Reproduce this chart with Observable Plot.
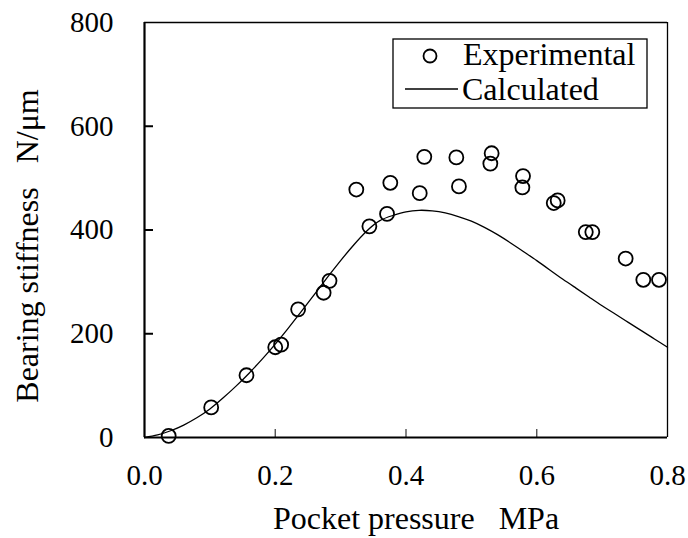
<!DOCTYPE html>
<html>
<head>
<meta charset="utf-8">
<script src="https://cdn.jsdelivr.net/npm/d3@7"></script>
<script src="https://cdn.jsdelivr.net/npm/@observablehq/plot@0.6"></script>
<style>
  html, body { margin: 0; padding: 0; background: white; }
  #chart { position: relative; width: 688px; height: 538px; }
</style>
</head>
<body>
<div id="chart"></div>
<script>
// Tick values
const xTickValues = [0.0, 0.2, 0.4, 0.6, 0.8];
const yTickValues = [0, 200, 400, 600, 800];
const xInnerTicks = [0.2, 0.4, 0.6];
const yInnerTicks = [200, 400, 600];

// Experimental data (pocket pressure MPa, stiffness N/um)
const expPressure = [0.037, 0.102, 0.156, 0.200, 0.209, 0.235, 0.274, 0.283, 0.324, 0.344,
                     0.371, 0.376, 0.421, 0.428, 0.477, 0.481, 0.531, 0.529, 0.579, 0.578,
                     0.626, 0.632, 0.675, 0.685, 0.736, 0.763, 0.787];
const expStiffness = [3, 58, 120, 174, 179, 247, 279, 302, 478, 407,
                      431, 491, 471, 541, 540, 484, 548, 528, 504, 482,
                      452, 457, 396, 396, 345, 304, 304];

// Calculated curve
const calcPressure = [0.00, 0.02, 0.04, 0.06, 0.08, 0.10, 0.12, 0.14, 0.16, 0.18,
                      0.20, 0.22, 0.24, 0.26, 0.28, 0.30, 0.32, 0.34, 0.36, 0.38,
                      0.40, 0.42, 0.44, 0.46, 0.48, 0.50, 0.52, 0.54, 0.56, 0.58,
                      0.60, 0.62, 0.64, 0.66, 0.68, 0.70, 0.72, 0.74, 0.76, 0.78, 0.80];
const calcStiffness = [0, 5, 13, 24, 38, 55, 76, 99, 124, 151,
                       180, 211, 243, 276, 309, 341, 371, 398, 418, 428,
                       435, 438, 437, 433, 426, 417, 405, 391, 375, 358,
                       341, 323, 305, 288, 271, 254, 238, 222, 206, 190, 174];

const xTitle = "Pocket pressure\u00a0\u00a0\u00a0MPa";
const yTitle = "Bearing stiffness\u00a0\u00a0\u00a0N/\u03bcm";
const legendLabels = ["Experimental", "Calculated"];

const expData = expPressure.map((p, i) => ({p, k: expStiffness[i]}));
const calcData = calcPressure.map((p, i) => ({p, k: calcStiffness[i]}));

const font = "'Liberation Serif', 'Times New Roman', Times, serif";

const chart = Plot.plot({
  width: 688,
  height: 538,
  marginLeft: 144,
  marginRight: 21,
  marginTop: 22,
  marginBottom: 101,
  x: {domain: [0, 0.8]},
  y: {domain: [0, 800]},
  style: {fontFamily: font, color: "black", background: "white", overflow: "visible"},
  marks: [
    Plot.axisX(xTickValues, {tickSize: 0, tickPadding: 27, tickFormat: d3.format(".1f"), fontSize: 29, label: null}),
    Plot.axisX(xInnerTicks, {tickSize: -8, tickFormat: () => "", label: null, stroke: "#444", strokeWidth: 1.3}),
    Plot.axisY(yTickValues, {tickSize: 0, tickPadding: 31, tickFormat: d3.format("d"), fontSize: 29, label: null}),
    Plot.axisY(yInnerTicks, {tickSize: -9, tickFormat: () => "", label: null, stroke: "black", strokeWidth: 2}),
    Plot.ruleX([0], {stroke: "black", strokeWidth: 2.2}),
    Plot.ruleY([0], {stroke: "black", strokeWidth: 2.2}),
    Plot.ruleX([0.8], {stroke: "black", strokeWidth: 1.3}),
    Plot.ruleY([800], {stroke: "black", strokeWidth: 1.3}),
    Plot.line(calcData, {x: "p", y: "k", curve: "natural", stroke: "black", strokeWidth: 1.3}),
    Plot.dot(expData, {x: "p", y: "k", r: 7, stroke: "black", strokeWidth: 1.8, fill: "none"}),
    Plot.text([xTitle], {frameAnchor: "bottom", textAnchor: "middle", lineAnchor: "middle", dy: 81, dx: 10, fontSize: 32, fill: "black"}),
    Plot.text([yTitle], {frameAnchor: "left", textAnchor: "middle", lineAnchor: "middle", rotate: -90, dx: -117, dy: 16, fontSize: 32, fill: "black"})
  ]
});

// Legend inside the plot (upper right)
const svg = d3.select(chart);
const lg = svg.append("g").attr("font-family", font).attr("font-size", 32)
  .attr("fill", "black").attr("text-anchor", "start");
lg.append("rect").attr("x", 393).attr("y", 39).attr("width", 254).attr("height", 69)
  .attr("fill", "white").attr("stroke", "black").attr("stroke-width", 1.3);
lg.append("circle").attr("cx", 430).attr("cy", 56).attr("r", 6.5)
  .attr("fill", "none").attr("stroke", "black").attr("stroke-width", 1.8);
lg.append("text").attr("x", 463).attr("y", 65).attr("text-anchor", "start").text(legendLabels[0]);
lg.append("line").attr("x1", 405).attr("x2", 458).attr("y1", 89).attr("y2", 89)
  .attr("stroke", "black").attr("stroke-width", 1.3);
lg.append("text").attr("x", 462).attr("y", 100).attr("text-anchor", "start").text(legendLabels[1]);

document.getElementById("chart").appendChild(chart);
</script>
</body>
</html>
